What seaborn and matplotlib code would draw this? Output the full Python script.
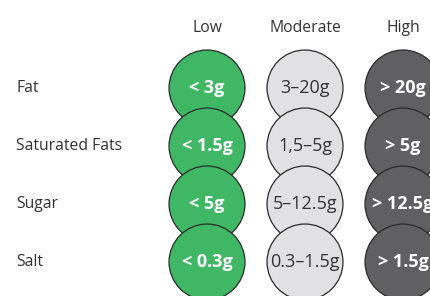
import numpy as np
import pandas as pd
import matplotlib
matplotlib.use("Agg")
import matplotlib.pyplot as plt
import seaborn as sns

levels = ["Low", "Moderate", "High"]
nutrients = ["Fat", "Saturated Fats", "Sugar", "Salt"]
low_vals = ["< 3g", "< 1.5g", "< 5g", "< 0.3g"]
mod_vals = ["3\u201320g", "1,5\u20135g", "5\u201312.5g", "0.3\u20131.5g"]
high_vals = ["> 20g", "> 5g", "> 12.5g", "> 1.5g"]

colors = {"Low": "#3fb765", "Moderate": "#e1e1e3", "High": "#606062"}
text_colors = {"Low": "white", "Moderate": "#333333", "High": "white"}
weights = {"Low": "bold", "Moderate": "normal", "High": "bold"}

rows = []
for i, n in enumerate(nutrients):
    for j, lv in enumerate(levels):
        label = [low_vals, mod_vals, high_vals][j][i]
        rows.append(dict(nutrient=n, level=lv, xi=j, yi=i, label=label))
df = pd.DataFrame(rows)

sns.set_style("white")
plt.rcParams['font.family'] = ['Open Sans', 'DejaVu Sans']

fig = plt.figure(figsize=(4.3, 2.96), dpi=100)
ax = fig.add_axes([0, 0, 1, 1])

# later rows drawn on top of earlier ones (overlapping circles)
sns.scatterplot(data=df, x="xi", y="yi", hue="level", palette=colors,
                s=2990, edgecolor="#2a2a2a", linewidth=0.9, legend=False,
                ax=ax, zorder=2)

# column spacing 98px, row spacing 58px
ax.set_xlim(-207 / 98, 2 + 27 / 98)
ax.set_ylim(3 + 34 / 58, -88 / 58)
ax.axis("off")

for _, r in df.iterrows():
    ax.text(r.xi, r.yi, r.label, ha="center", va="center", fontsize=13,
            color=text_colors[r.level], fontweight=weights[r.level], zorder=3)

for j, lv in enumerate(levels):
    ax.text(j, -60 / 58, lv, ha="center", va="center", fontsize=11.3,
            color="#333333")

for i, n in enumerate(nutrients):
    ax.text(-191 / 98, i, n, ha="left", va="center", fontsize=11.3,
            color="#333333")

fig.savefig("out.png", dpi=100)
